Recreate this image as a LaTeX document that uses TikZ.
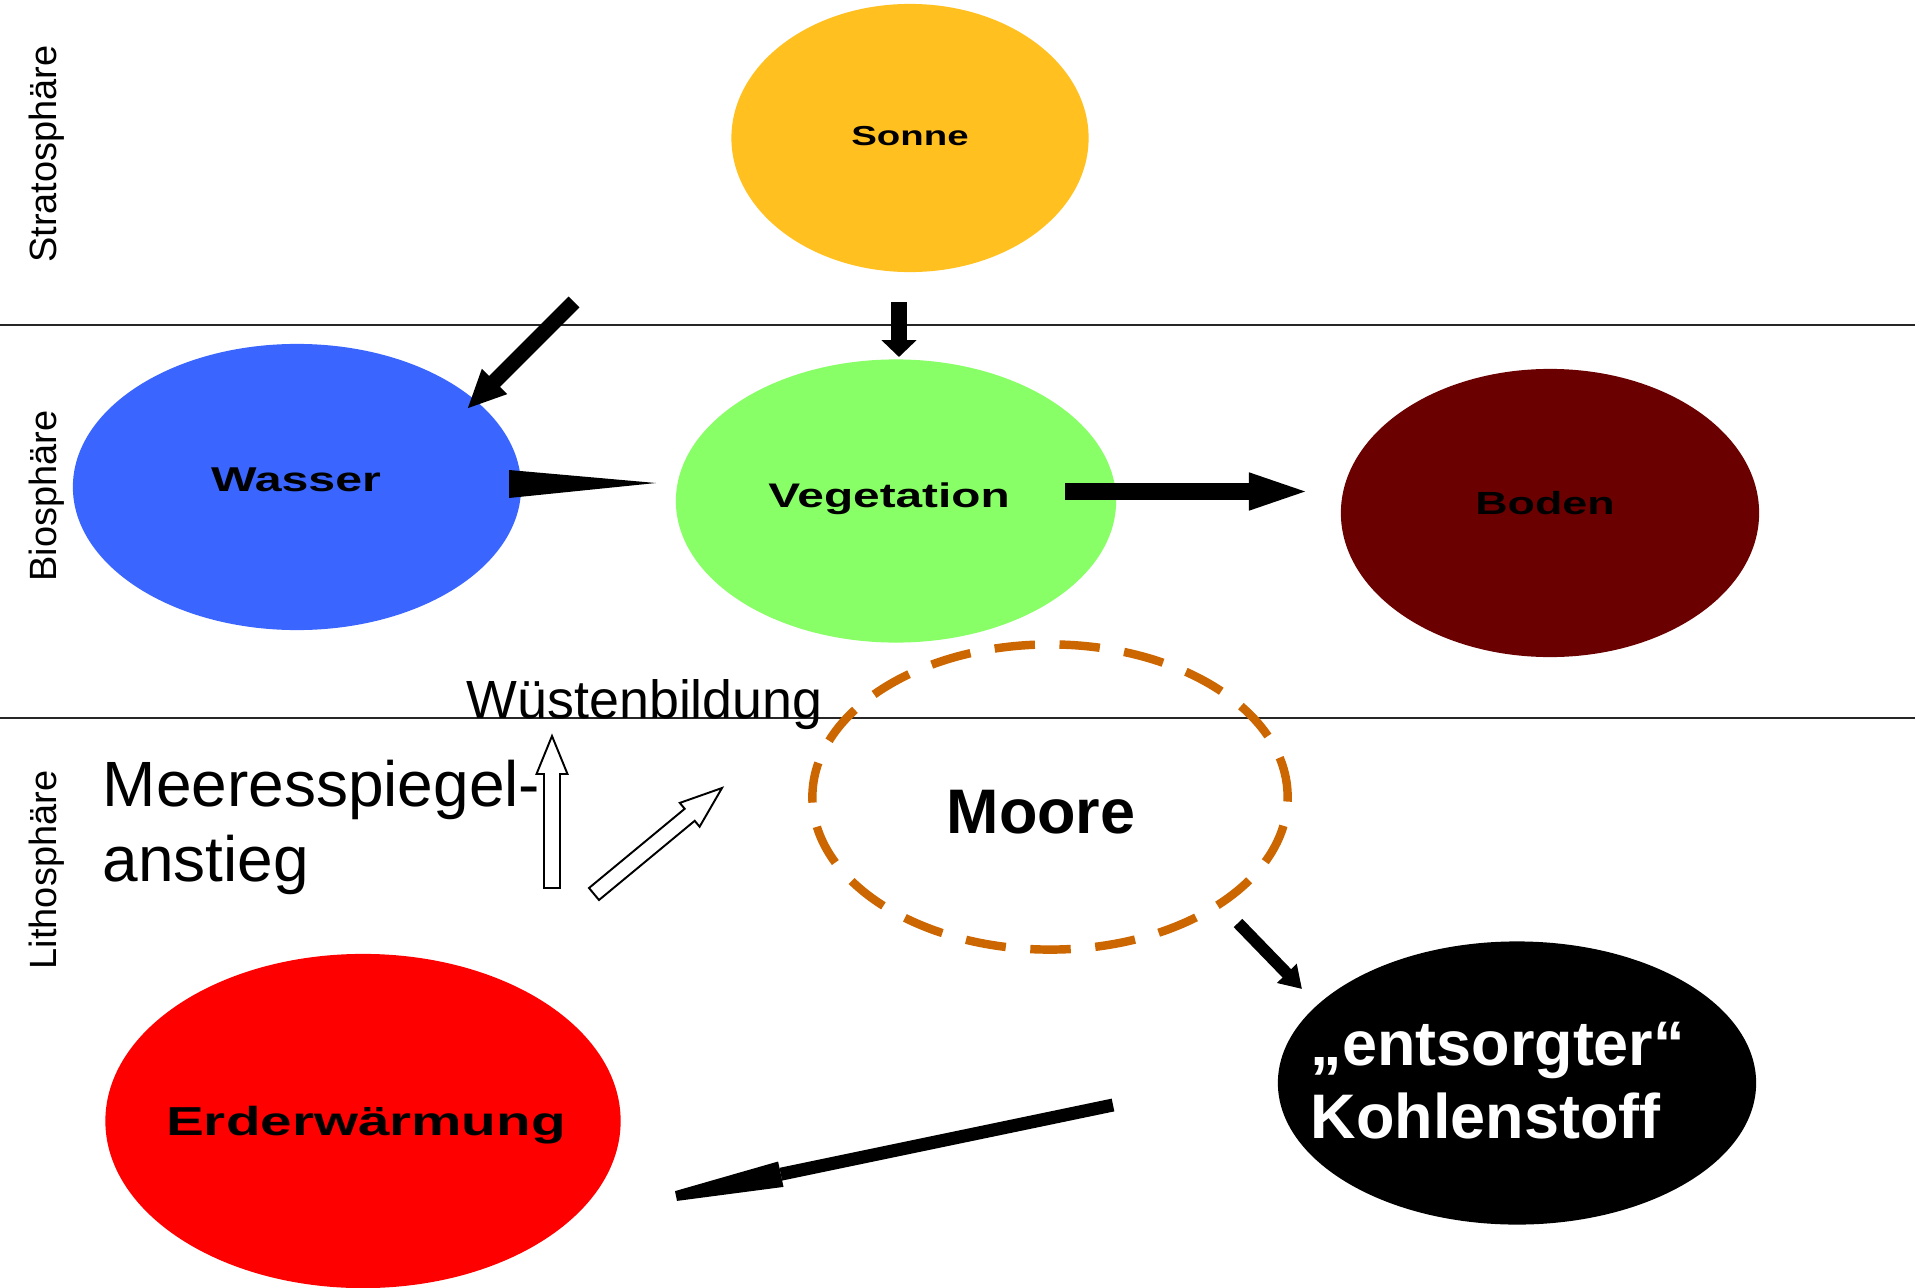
\documentclass[tikz,border=0pt]{standalone}
\usepackage{fontspec}
\setmainfont{Liberation Sans}
\newfontfamily\widebold{Liberation Sans}[FakeStretch=1.4]
\usetikzlibrary{shapes.geometric,arrows.meta}
\definecolor{sonnecol}{HTML}{FFC020}
\definecolor{wassercol}{HTML}{3A66FF}
\definecolor{vegcol}{HTML}{88FF66}
\definecolor{bodencol}{HTML}{6B0000}
\definecolor{erdcol}{HTML}{FF0000}
\definecolor{moorecol}{HTML}{CC6600}
\begin{document}
\begin{tikzpicture}[x=0.01cm,y=-0.01cm,
  blob/.style={ellipse, inner sep=0pt, draw=none},
  bubtext/.style={anchor=base, inner sep=0pt, font=\widebold\bfseries\fontsize{#1}{#1}\selectfont},
  layerlbl/.style={rotate=90, anchor=base, inner sep=0pt, font=\fontsize{10.8pt}{13pt}\selectfont},
  layerline/.style={draw=black!85, line width=0.6pt},
  hollowarr/.style={draw=black, fill=white, line width=0.55pt, line join=miter},
  solidarr/.style={draw=black, line cap=butt}
]
\useasboundingbox (0,0) rectangle (1915,1288);
\fill[white] (0,0) rectangle (1915,1288);

% layer separators
\coordinate (l1w) at (0,325);   \coordinate (l1e) at (1915,325);
\coordinate (l2w) at (0,718);   \coordinate (l2e) at (1915,718);
\draw[layerline] (l1w) -- (l1e);
\draw[layerline] (l2w) -- (l2e);

% layer labels
\node[layerlbl] (strat) at (56,154) {Stratosphäre};
\node[layerlbl] (bio)   at (56,496) {Biosphäre};
\node[layerlbl] (litho) at (56,870) {Lithosphäre};

% ellipses
\node[blob, fill=sonnecol,  minimum width=3.57cm, minimum height=2.68cm] (sonne)  at (910,138) {};
\node[blob, fill=wassercol, minimum width=4.48cm, minimum height=2.86cm] (wasser) at (297,487) {};
\node[blob, fill=vegcol,    minimum width=4.40cm, minimum height=2.83cm] (veg)    at (896,501) {};
\node[blob, fill=bodencol,  minimum width=4.18cm, minimum height=2.88cm] (boden)  at (1550,513) {};
\node[blob, fill=black,     minimum width=4.78cm, minimum height=2.83cm] (kohle)  at (1517,1083) {};
\node[blob, fill=erdcol,    minimum width=5.15cm, minimum height=3.34cm] (erd)    at (363,1121) {};
\node[ellipse, inner sep=0pt, draw=moorecol, line width=2.4pt,
      dash pattern=on 11.5pt off 7pt,
      minimum width=4.75cm, minimum height=3.05cm] (moore) at (1050,797) {};

% bubble texts
\node[bubtext=7.8pt]  (tsonne)  at (910,146)  {Sonne};
\node[bubtext=9.8pt]  (twasser) at (296,491)  {Wasser};
\node[bubtext=9.7pt]  (tveg)    at (889,507)  {Vegetation};
\node[bubtext=9.1pt]  (tboden)  at (1545,514) {Boden};
\node[bubtext=11.5pt] (terd)    at (366,1135) {Erderwärmung};
\node[anchor=base, inner sep=0pt, font=\bfseries\fontsize{17.9pt}{21pt}\selectfont] (tmoore) at (1041,833) {Moore};
\node[anchor=base west, inner sep=0pt, text=white, font=\bfseries\fontsize{17.9pt}{21pt}\selectfont] (tkohle) at (1310,1065)
  {\begin{tabular}[t]{@{}l@{}}„entsorgter“\\Kohlenstoff\end{tabular}};

% free texts
\node[anchor=base west, inner sep=0pt, font=\fontsize{15.3pt}{18pt}\selectfont] (wueste) at (466,718) {Wüstenbildung};
\node[anchor=base west, inner sep=0pt, font=\fontsize{18.2pt}{21.6pt}\selectfont] (meer) at (102,806)
  {\begin{tabular}[t]{@{}l@{}}Meeresspiegel-\\anstieg\end{tabular}};

% solid arrows
\coordinate (a1s) at (574,302);  \coordinate (a1e) at (467,409);
\draw[solidarr, line width=4.4pt, -{Triangle[length=11.1pt,width=9.3pt]}] (a1s) -- (a1e);
\coordinate (a2s) at (899,302);  \coordinate (a2e) at (899,357);
\draw[solidarr, line width=4.75pt, -{Triangle[length=4.8pt,width=9.7pt]}] (a2s) -- (a2e);
\coordinate (a3s) at (1065,491.5); \coordinate (a3e) at (1314,491.5);
\draw[solidarr, line width=4.8pt, -{Triangle[length=18.5pt,width=9.1pt]}] (a3s) -- (a3e);
\coordinate (a4s) at (1238,923); \coordinate (a4e) at (1302,989);
\draw[solidarr, line width=3.4pt, -{Triangle[length=6.2pt,width=7.4pt]}] (a4s) -- (a4e);
% Kohlenstoff -> Erderwaermung: shaft plus blunt tapered head
\coordinate (a5s) at (1113,1105); \coordinate (a5b) at (780.8,1174.2);
\coordinate (a5h1) at (778.1,1161.5); \coordinate (a5h2) at (783.5,1186.9);
\coordinate (a5t1) at (675.0,1191.1); \coordinate (a5t2) at (677.0,1200.9);
\draw[solidarr, line width=3.7pt] (a5s) -- (a5b);
\fill[black] (a5h1) -- (a5t1) -- (a5t2) -- (a5h2) -- cycle;

% wedge Wasser -> Vegetation
\coordinate (w1) at (509,470); \coordinate (w2) at (509,498); \coordinate (wtip) at (656,483);
\fill[black] (w1) -- (wtip) -- (w2) -- cycle;

% hollow arrows
\coordinate (h1s) at (552,888); \coordinate (h1e) at (552,736);
\draw[hollowarr] (544,888) -- (544,774) -- (536.5,774) -- (h1e) -- (567.5,774) -- (560,774) -- (560,888) -- cycle;
\coordinate (h2s) at (594,894); \coordinate (h2e) at (722,788);
\draw[hollowarr] (599.0,900.0) -- (589.0,888.0) -- (684.7,808.8) -- (679.8,802.9) -- (h2e)
  -- (699.6,826.7) -- (694.7,820.8) -- cycle;
\end{tikzpicture}
\end{document}
